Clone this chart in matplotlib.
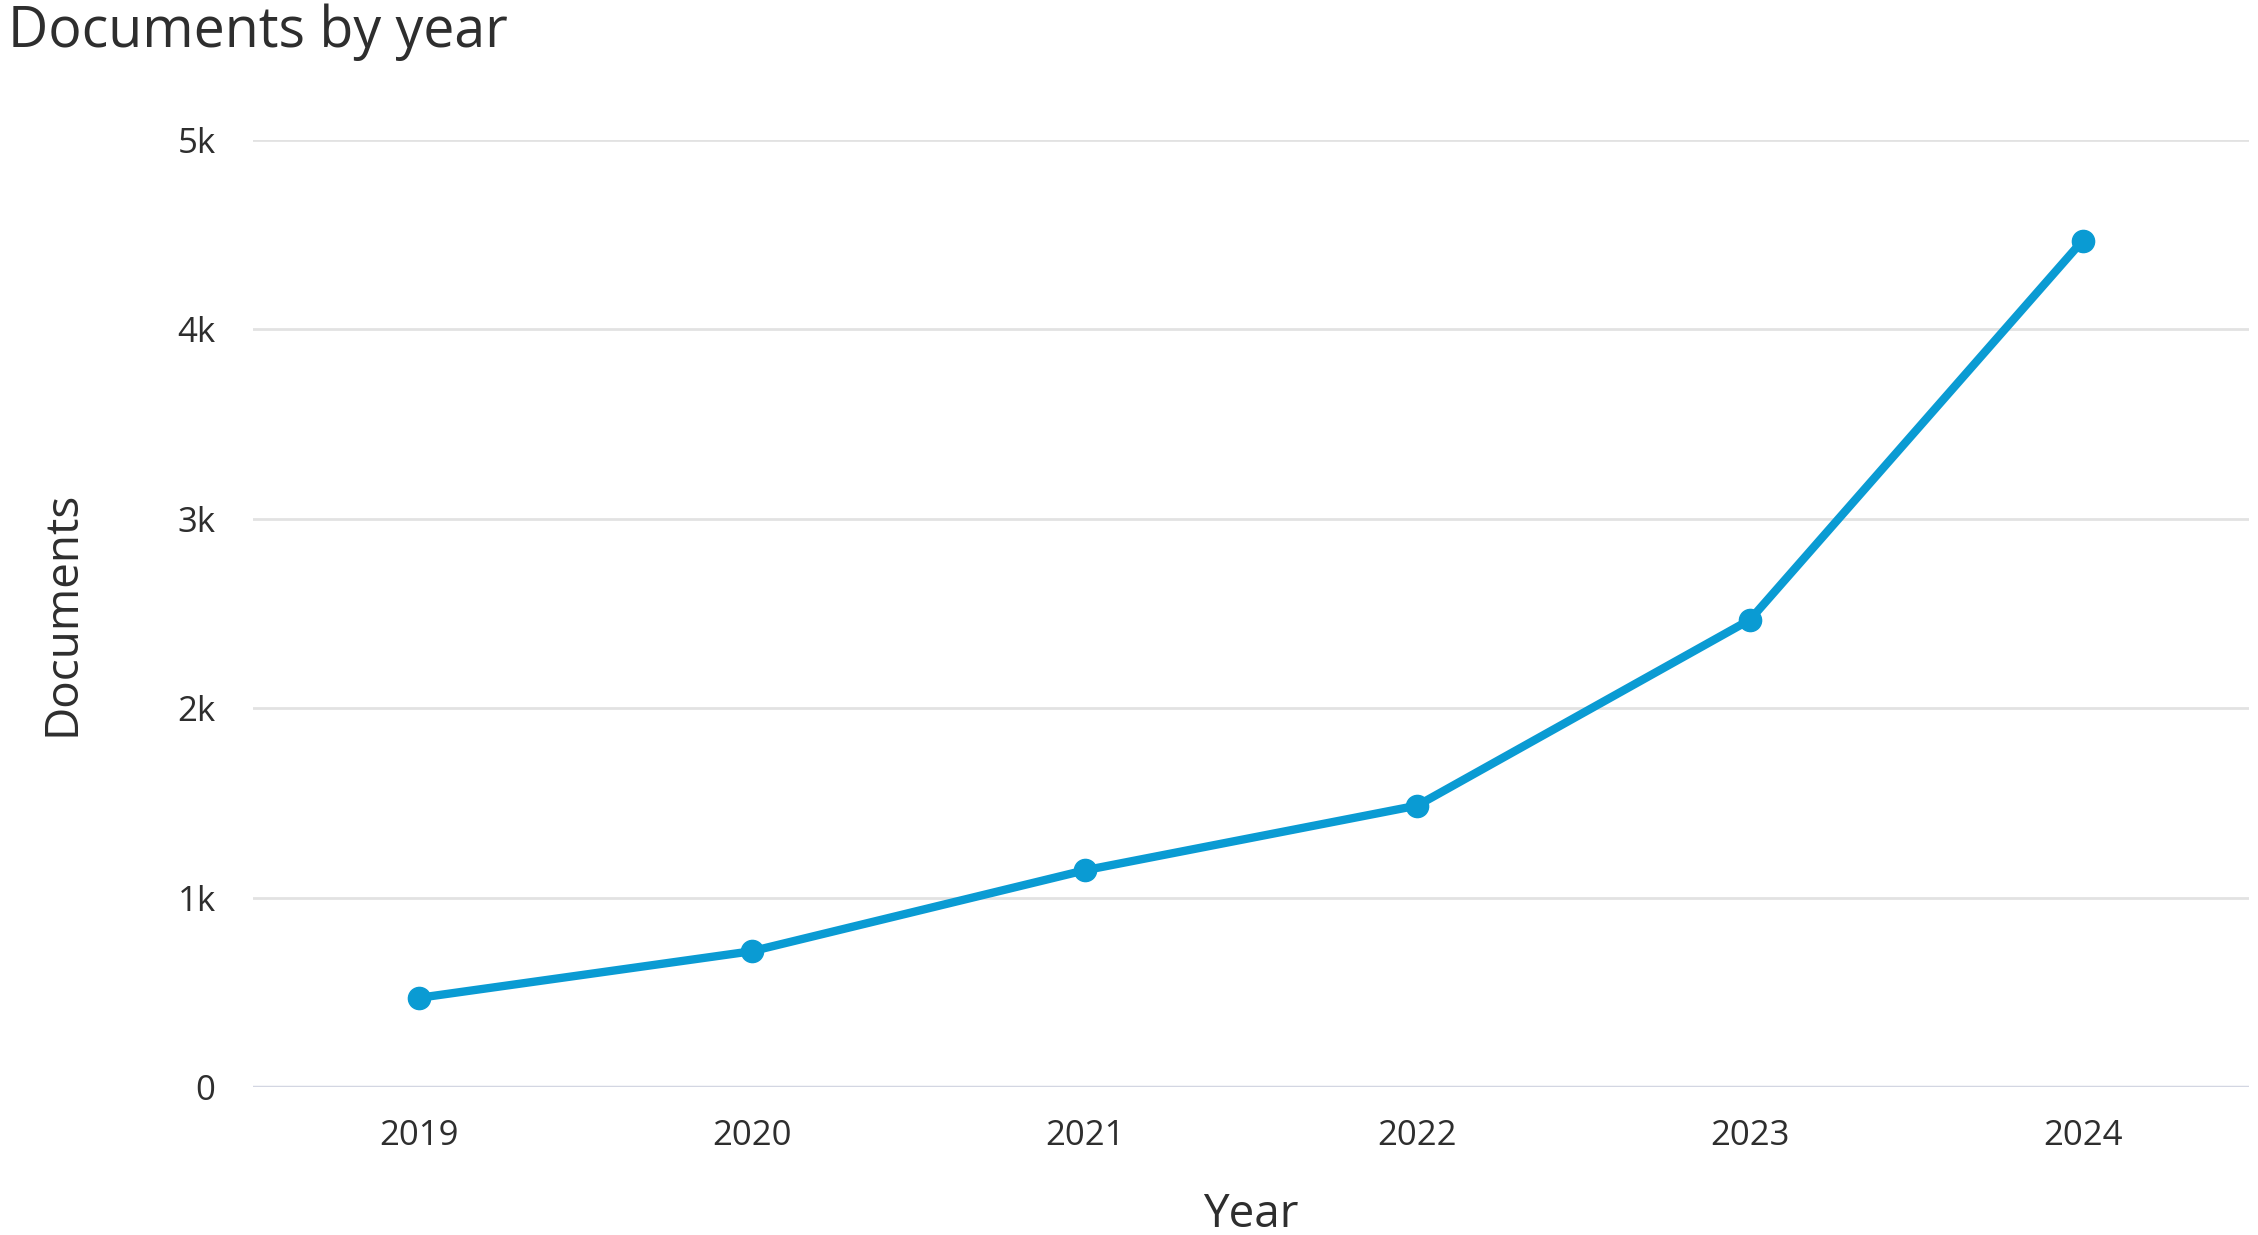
import matplotlib
matplotlib.use("Agg")
import matplotlib.pyplot as plt

years = ["2019", "2020", "2021", "2022", "2023", "2024"]
documents = [471, 717, 1144, 1486, 2467, 4469]
yticks = [0, 1000, 2000, 3000, 4000, 5000]
ytick_labels = ["0", "1k", "2k", "3k", "4k", "5k"]

plt.rcParams['font.family'] = ['Open Sans', 'DejaVu Sans']

W, H = 2258, 1235
fig = plt.figure(figsize=(W / 100, H / 100), dpi=100)
ax = fig.add_axes([253 / W, 1 - 1087 / H, (2249 - 253) / W, (1087 - 140) / H])

x = list(range(len(years)))
ax.plot(x, documents, color="#0a9bd3", linewidth=6, marker="o", markersize=16,
        solid_joinstyle="round", solid_capstyle="round", zorder=3)

ax.set_xlim(-0.5, len(years) - 0.5)
ax.set_ylim(0, 5000)
ax.set_xticks(x)
ax.set_xticklabels(years)
ax.set_yticks(yticks)
ax.set_yticklabels(ytick_labels)

for v in yticks[1:]:
    ax.axhline(v, color="#e2e2e2", linewidth=2, zorder=1)
ax.axhline(0, color="#d3d6e2", linewidth=2.5, zorder=1)

for s in ax.spines.values():
    s.set_visible(False)
ax.tick_params(axis="both", length=0, colors="#2e2e2e")
ax.tick_params(axis="y", labelsize=25, pad=27)
ax.tick_params(axis="x", labelsize=25, pad=23)

ax.set_xlabel("Year", fontsize=33, color="#2e2e2e", labelpad=28)
ax.set_ylabel("Documents", fontsize=33, color="#2e2e2e", labelpad=66)

fig.text(8 / W, 1 - 32 / H, "Documents by year", fontsize=40, color="#2e2e2e",
         ha="left", va="center")

fig.savefig("out.png", dpi=100, facecolor="white")
